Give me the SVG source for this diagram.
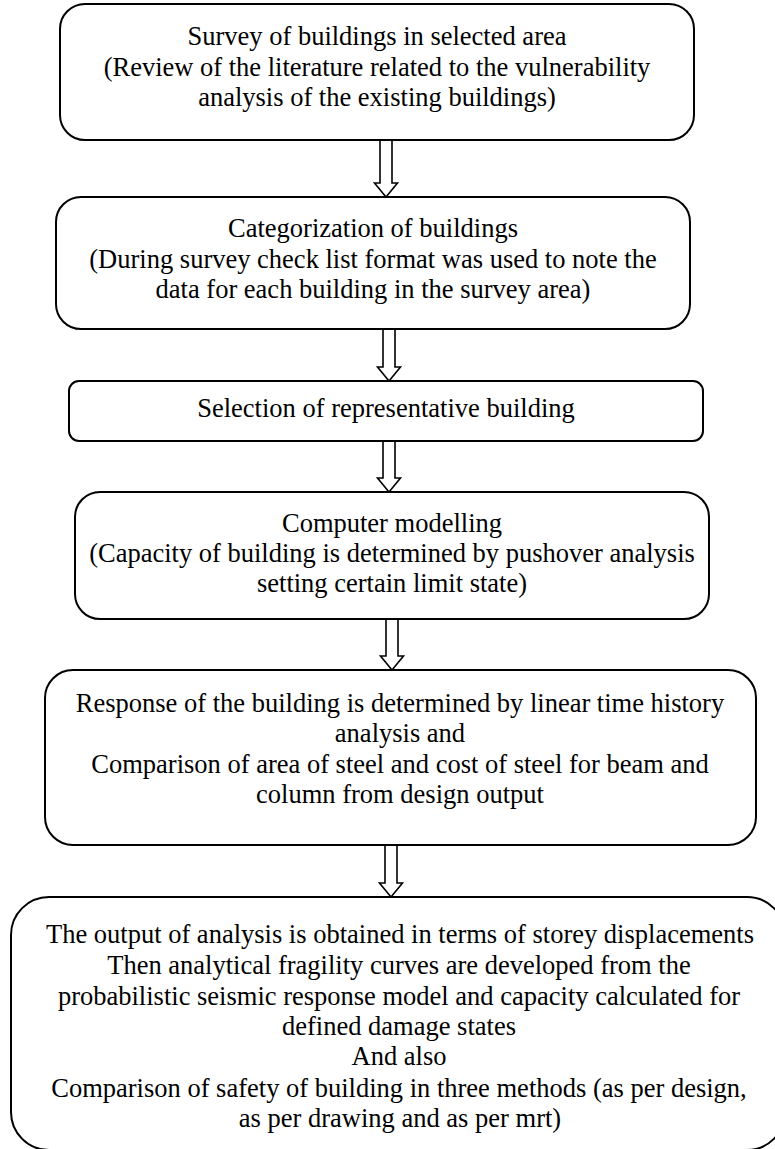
<svg xmlns="http://www.w3.org/2000/svg" width="775" height="1149" viewBox="0 0 775 1149">
<style>
.box{fill:#fff;stroke:#000;stroke-width:2}
.arr{fill:#fff;stroke:#000;stroke-width:1.6;stroke-linejoin:miter}
text{font-family:"Liberation Serif","Times New Roman",serif;font-size:26.5px;fill:#000;text-anchor:middle}
</style>
<rect width="775" height="1149" fill="#fff"/>
<g id="connectors">
<path class="arr" d="M380,140 L392,140 L392,183 L397.5,183 L386,197 L374.5,183 L380,183 Z"/>
<path class="arr" d="M383,329 L395,329 L395,367 L400.5,367 L389,381 L377.5,367 L383,367 Z"/>
<path class="arr" d="M383,441 L395,441 L395,478 L400.5,478 L389,492 L377.5,478 L383,478 Z"/>
<path class="arr" d="M386,619 L398,619 L398,656 L403.5,656 L392,670 L380.5,656 L386,656 Z"/>
<path class="arr" d="M385,845 L397,845 L397,883 L402.5,883 L391,897 L379.5,883 L385,883 Z"/>
</g>
<g id="n1">
<rect class="box" x="60" y="4" width="634" height="136" rx="25"/>
<text x="377" y="45">Survey of buildings in selected area</text>
<text x="377" y="75.5">(Review of the literature related to the vulnerability</text>
<text x="377" y="106">analysis of the existing buildings)</text>
</g>
<g id="n2">
<rect class="box" x="56" y="197" width="634" height="132" rx="25"/>
<text x="373" y="237">Categorization of buildings</text>
<text x="373" y="267.5">(During survey check list format was used to note the</text>
<text x="373" y="298">data for each building in the survey area)</text>
</g>
<g id="n3">
<rect class="box" x="69" y="381" width="634" height="60" rx="10"/>
<text x="386" y="417">Selection of representative building</text>
</g>
<g id="n4">
<rect class="box" x="75" y="492" width="634" height="127" rx="25"/>
<text x="392" y="532">Computer modelling</text>
<text x="392" y="562">(Capacity of building is determined by pushover analysis</text>
<text x="392" y="592">setting certain limit state)</text>
</g>
<g id="n5">
<rect class="box" x="45" y="670" width="711" height="175" rx="28"/>
<text x="400" y="712">Response of the building is determined by linear time history</text>
<text x="400" y="742">analysis and</text>
<text x="400" y="773">Comparison of area of steel and cost of steel for beam and</text>
<text x="400" y="803">column from design output</text>
</g>
<g id="n6">
<rect class="box" x="11" y="897" width="774" height="253" rx="38"/>
<text x="400" y="943">The output of analysis is obtained in terms of storey displacements</text>
<text x="399" y="974">Then analytical fragility curves are developed from the</text>
<text x="399" y="1005">probabilistic seismic response model and capacity calculated for</text>
<text x="399" y="1035">defined damage states</text>
<text x="399" y="1065">And also</text>
<text x="399" y="1097">Comparison of safety of building in three methods (as per design,</text>
<text x="400" y="1127">as per drawing and as per mrt)</text>
</g>
</svg>
